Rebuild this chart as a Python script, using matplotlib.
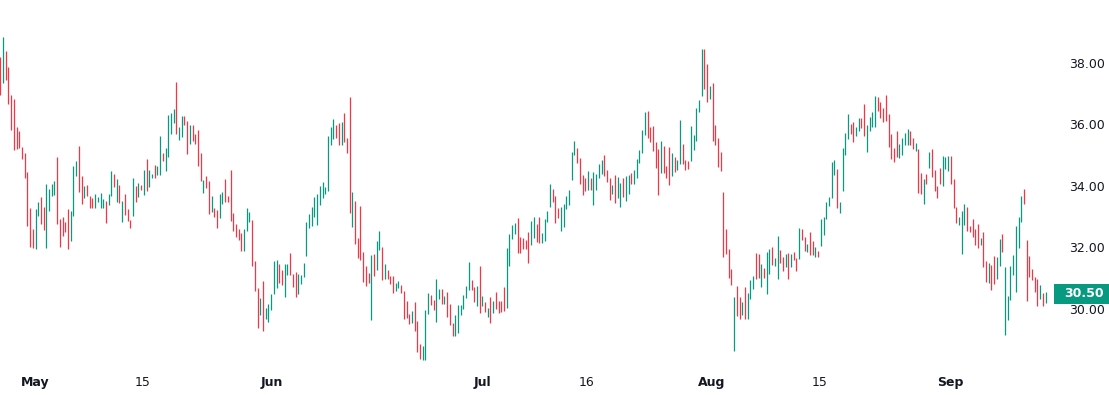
import matplotlib
matplotlib.use("Agg")
import matplotlib.pyplot as plt
from matplotlib.patches import Rectangle
from matplotlib.transforms import blended_transform_factory

highs = [
    38.21, 38.86, 38.40, 37.88, 36.96, 36.83, 35.93, 35.80, 35.28, 35.08,
    34.47, 33.30, 32.61, 33.26, 33.48, 33.65, 33.33, 34.07, 33.91, 34.07,
    34.17, 34.95, 32.94, 33.00, 32.83, 33.25, 33.19, 34.66, 34.81, 35.31,
    34.34, 34.00, 34.03, 33.69, 33.62, 33.75, 33.64, 33.78, 33.59, 33.51,
    33.74, 34.49, 34.39, 34.23, 34.04, 33.51, 33.75, 33.25, 32.89, 34.26,
    34.00, 34.10, 34.03, 34.52, 34.89, 34.52, 34.39, 34.68, 34.65, 35.63,
    35.07, 35.25, 36.32, 36.37, 36.50, 37.39, 35.92, 36.28, 36.28, 36.11,
    35.98, 35.98, 35.69, 35.83, 35.08, 34.20, 34.34, 34.16, 33.69, 33.30,
    33.22, 33.75, 33.81, 34.24, 33.69, 34.53, 33.13, 32.78, 32.60, 32.48,
    32.60, 33.30, 33.17, 32.89, 31.57, 30.69, 30.37, 30.92, 30.04, 30.17,
    30.50, 31.57, 31.60, 31.47, 31.28, 31.47, 31.47, 31.83, 31.15, 31.21,
    31.15, 31.12, 31.51, 32.84, 33.10, 33.33, 33.65, 33.75, 34.01, 34.14,
    33.98, 35.63, 35.92, 36.19, 35.99, 36.06, 36.09, 36.38, 35.57, 36.91,
    33.82, 33.52, 32.32, 33.36, 31.86, 31.41, 31.18, 31.77, 31.80, 32.22,
    32.55, 32.03, 31.47, 31.28, 31.08, 31.08, 30.86, 30.92, 30.79, 30.60,
    30.27, 29.85, 29.95, 30.24, 29.62, 28.87, 28.81, 29.98, 30.53, 30.47,
    30.30, 30.99, 30.66, 30.66, 30.43, 30.56, 30.17, 29.56, 29.82, 30.14,
    30.14, 30.47, 30.76, 31.54, 30.95, 30.73, 30.76, 31.41, 30.43, 30.24,
    30.04, 30.40, 30.27, 30.56, 30.27, 30.27, 30.73, 31.99, 32.45, 32.74,
    32.81, 32.97, 32.35, 32.32, 32.26, 32.52, 32.87, 33.00, 32.78, 33.00,
    32.48, 32.94, 33.20, 34.08, 33.91, 33.69, 33.30, 33.33, 33.43, 33.69,
    33.88, 35.12, 35.47, 35.25, 34.92, 34.37, 34.27, 34.50, 34.27, 34.47,
    34.40, 34.73, 34.86, 35.02, 34.53, 34.27, 34.04, 34.37, 34.30, 34.11,
    34.27, 34.34, 34.37, 34.43, 34.53, 34.89, 35.18, 35.83, 36.42, 36.45,
    35.93, 35.96, 35.44, 35.21, 35.47, 35.31, 34.66, 35.28, 35.08, 34.95,
    34.86, 36.16, 35.38, 34.86, 34.82, 35.96, 35.67, 36.55, 36.81, 38.47,
    38.47, 37.98, 37.26, 37.36, 35.99, 35.57, 35.12, 33.82, 32.61, 31.96,
    31.31, 30.40, 30.76, 30.40, 30.24, 30.73, 30.53, 30.95, 31.08, 31.83,
    31.80, 31.47, 31.34, 31.86, 31.96, 32.03, 31.67, 32.39, 31.93, 31.70,
    31.80, 31.83, 31.80, 31.86, 31.67, 32.65, 32.61, 32.35, 32.12, 32.52,
    32.22, 32.03, 31.90, 32.94, 33.00, 33.49, 33.65, 34.79, 34.86, 34.56,
    33.49, 35.25, 35.73, 36.35, 36.03, 36.09, 35.93, 36.22, 36.22, 36.68,
    35.99, 36.26, 36.42, 36.94, 36.91, 36.74, 36.55, 36.97, 36.35, 35.70,
    35.25, 35.80, 35.38, 35.57, 35.73, 35.86, 35.80, 35.57, 35.41, 35.21,
    34.43, 34.24, 34.40, 35.12, 35.21, 34.53, 34.01, 34.60, 34.99, 34.95,
    34.99, 34.99, 34.24, 33.33, 33.00, 33.20, 33.43, 33.33, 32.71, 32.94,
    32.61, 32.78, 32.32, 32.52, 31.57, 31.51, 31.44, 31.73, 31.70, 32.29,
    32.45, 31.38, 30.43, 31.41, 31.77, 32.71, 33.00, 33.69, 33.91, 32.26,
    31.73, 31.31, 31.05, 30.99, 30.79, 30.53, 30.56,
]

lows = [
    36.96, 37.36, 37.45, 36.67, 35.82, 35.17, 35.20, 35.23, 34.88, 34.27,
    32.70, 32.02, 31.99, 31.96, 33.02, 32.76, 32.57, 31.98, 33.19, 33.69,
    33.71, 32.75, 32.02, 32.39, 32.52, 31.95, 32.21, 33.04, 34.34, 33.81,
    33.42, 33.62, 33.69, 33.30, 33.30, 33.30, 33.47, 33.30, 33.30, 32.81,
    33.39, 33.69, 33.98, 33.48, 33.46, 32.83, 33.07, 32.86, 32.65, 33.04,
    33.49, 33.65, 33.87, 33.72, 33.85, 33.98, 34.27, 34.27, 34.36, 34.36,
    34.82, 34.50, 34.93, 35.70, 36.06, 35.70, 35.51, 35.60, 35.99, 35.05,
    35.38, 35.47, 35.38, 34.66, 34.17, 33.78, 33.95, 33.10, 33.15, 33.00,
    32.65, 32.97, 33.43, 33.49, 33.49, 32.86, 32.55, 32.33, 32.24, 31.90,
    31.90, 32.55, 32.83, 31.41, 30.60, 29.39, 29.81, 29.30, 29.66, 29.59,
    29.98, 30.50, 30.69, 30.86, 30.79, 30.40, 31.12, 31.12, 30.73, 30.40,
    30.50, 30.82, 31.05, 31.73, 32.65, 32.71, 33.00, 32.74, 33.39, 33.62,
    33.75, 33.85, 35.34, 35.54, 35.57, 35.34, 35.34, 35.44, 35.08, 33.13,
    32.68, 32.12, 31.67, 31.60, 30.89, 30.76, 30.86, 29.65, 31.08, 31.28,
    31.93, 30.95, 30.99, 30.99, 30.82, 30.53, 30.60, 30.69, 30.53, 29.69,
    29.72, 29.52, 29.56, 29.30, 28.61, 28.39, 28.35, 28.35, 29.85, 30.14,
    29.98, 29.59, 30.34, 30.17, 30.17, 29.75, 29.49, 29.13, 29.13, 29.23,
    29.82, 30.01, 30.37, 30.63, 30.63, 30.24, 30.11, 29.88, 30.11, 29.91,
    29.75, 29.56, 29.88, 30.01, 29.88, 29.91, 29.95, 30.04, 31.41, 32.29,
    32.45, 31.83, 31.83, 31.96, 31.96, 31.51, 32.09, 32.32, 32.19, 32.16,
    32.16, 32.22, 32.84, 33.33, 33.49, 32.81, 32.97, 32.55, 32.68, 33.26,
    33.39, 34.21, 35.02, 34.76, 34.08, 33.72, 33.85, 33.88, 33.88, 33.39,
    33.88, 34.27, 34.40, 34.34, 34.14, 33.56, 33.75, 33.46, 33.62, 33.33,
    33.65, 33.52, 33.75, 34.08, 34.08, 34.27, 34.76, 35.08, 35.67, 35.57,
    35.44, 35.15, 34.60, 33.72, 34.43, 34.43, 34.27, 34.04, 34.34, 34.47,
    34.53, 34.73, 34.73, 34.53, 34.56, 34.82, 35.18, 35.47, 36.42, 36.94,
    37.17, 36.74, 36.84, 35.47, 35.34, 34.63, 34.50, 31.70, 31.80, 31.02,
    30.79, 28.65, 29.78, 29.69, 29.82, 29.69, 29.69, 30.34, 30.66, 30.99,
    31.02, 30.73, 31.02, 30.50, 31.15, 31.44, 31.41, 30.99, 31.51, 31.25,
    31.38, 30.99, 31.38, 31.60, 31.25, 31.64, 32.26, 31.90, 31.86, 31.77,
    31.77, 31.70, 31.70, 32.06, 32.42, 32.94, 33.36, 33.62, 34.37, 33.30,
    33.13, 33.85, 35.02, 35.54, 35.70, 35.44, 35.64, 35.80, 35.90, 35.64,
    35.12, 35.80, 35.93, 35.93, 36.45, 36.22, 36.09, 36.13, 35.28, 34.89,
    34.79, 34.95, 34.92, 35.02, 35.34, 35.34, 35.34, 35.21, 35.15, 33.78,
    33.75, 33.43, 34.08, 34.60, 34.30, 33.85, 33.62, 34.08, 34.01, 34.56,
    34.50, 34.08, 33.30, 32.81, 32.74, 31.80, 32.74, 32.55, 32.52, 32.35,
    32.09, 31.99, 32.09, 31.38, 30.89, 30.86, 30.63, 30.82, 30.99, 31.41,
    31.86, 29.17, 29.65, 30.30, 31.12, 30.56, 31.99, 32.84, 33.43, 30.27,
    31.05, 30.95, 30.56, 30.11, 30.34, 30.11, 30.20,
]

# G = close above open (up bar), R = close below open (down bar)
direction = (
    "RGRRRRRRRR" "RRRGGRRGGG" "GRRRRRGGGR" "RGRRRGGGGR" "GGRGRGRRRG"
    "RGRGRGGRGG" "RGGGGRGGRR" "GRRRRGRRGR" "RGGRRRRRRR" "GGGRRRGRGG"
    "GGGRRGGRRR" "GGGGGGGGGG" "GGGGRRGRRR" "GRRRRRRGRG" "GRGRRRGGRR"
    "RRGRRRGGGR" "RGGRGRRRGG" "GGGGRRGRGR" "GRGRRRRGGG" "GRRRRRGGRR"
    "GGGGRRRGGG" "GGGRRRRGRG" "GGGRRRGRGG" "RGGRGGGGGR" "RRRRGRRRGR"
    "GGRRRGGGGG" "RRGRRRRRRR" "RGRRGRGGGR" "RGRGGRGGRR" "GRGRRGRRGR"
    "RGRGGGGGGR" "GGGGRRGGRR" "GGGGRRRRRR" "RRGGGGRRGR" "RGRGRRRRGG"
    "GRRRGGGRRR" "RRGRRGRRGG" "RGGGGGGGRR" "RRRRGRG"
)

last_price = 30.50
price_ticks = [30, 32, 34, 36, 38]
date_labels = ["May", "15", "Jun", "Jul", "16", "Aug", "15", "Sep"]
date_positions = [12.8, 52.7, 100.3, 178.2, 216.3, 262.8, 302.7, 350.7]

UP = "#089981"
DOWN = "#F23645"
TEXT = "#131722"

W, H = 1109, 395
fig = plt.figure(figsize=(W / 100, H / 100), dpi=100)
fig.patch.set_facecolor("white")

plot_right = 1052
plot_bottom = 368
ax = fig.add_axes([0, 1 - plot_bottom / H, plot_right / W, plot_bottom / H])
ax.set_facecolor("white")

xs = list(range(len(highs)))
colors = [UP if d == "G" else DOWN for d in direction]
ax.vlines(xs, lows, highs, colors=colors, linewidth=0.9, antialiased=True)

step = 2.708
ax.set_xlim(-0.33 / step, (plot_right - 0.33) / step)
ax.set_ylim(30 - (plot_bottom - 309) / 30.75, 30 + 309 / 30.75)

for s in ax.spines.values():
    s.set_visible(False)

ax.yaxis.tick_right()
ax.set_yticks(price_ticks)
ax.set_yticklabels([f"{v:.2f}" for v in price_ticks])
ax.tick_params(axis="y", length=0, pad=12, labelsize=9, labelcolor=TEXT)

ax.set_xticks(date_positions)
ax.set_xticklabels(date_labels)
ax.tick_params(axis="x", length=0, pad=6, labelsize=9, labelcolor=TEXT)
for lab in ax.get_xticklabels():
    if lab.get_text().isalpha():
        lab.set_fontweight("bold")

trans = blended_transform_factory(fig.transFigure, ax.transData)
box_h = 20 / 30.75
rect = Rectangle((1054 / W, last_price - box_h / 2), (W - 1054) / W, box_h,
                 transform=trans, facecolor=UP, edgecolor="none", zorder=5)
fig.patches.append(rect)
fig.text(1084 / W, last_price, f"{last_price:.2f}", transform=trans,
         ha="center", va="center", color="white", fontsize=9,
         fontweight="bold", zorder=6)

fig.savefig("out.png", dpi=100, facecolor="white")
